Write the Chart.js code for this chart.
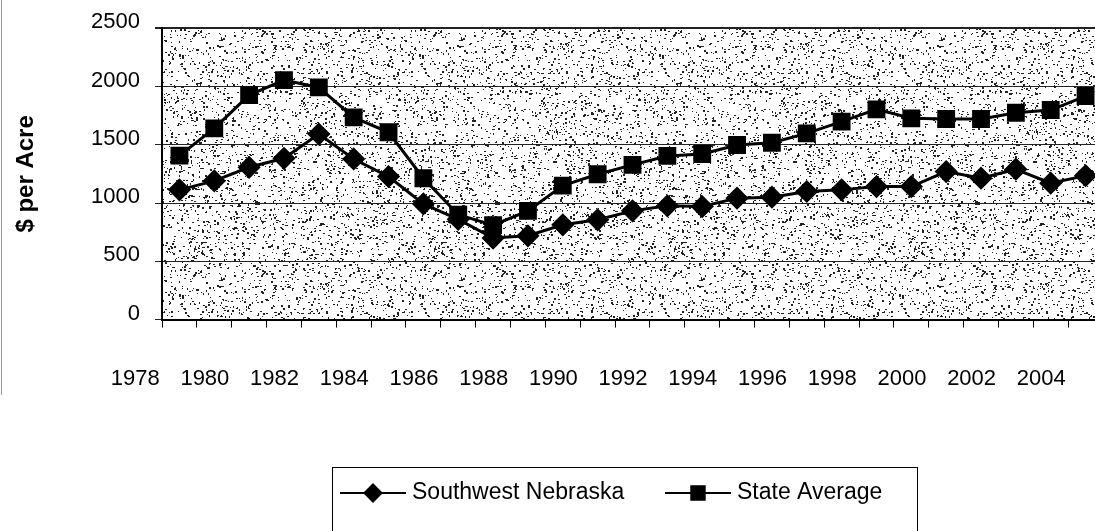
<!DOCTYPE html>
<html>
<head>
<meta charset="utf-8">
<script src="https://cdn.jsdelivr.net/npm/chart.js@4.4.1/dist/chart.umd.min.js"></script>
<style>
  html, body { margin: 0; padding: 0; background: #fff; overflow: hidden; }
  #wrap { position: relative; width: 1095px; height: 531px; overflow: hidden; }
  #landChart { position: absolute; left: 0; top: 0; }
  #edge { position: absolute; left: 1px; top: 0; width: 1px; height: 395px; background: #999; }
</style>
</head>
<body>
<div id="wrap">
  <canvas id="landChart" width="1120" height="531"></canvas>
  <div id="edge"></div>
</div>
<script>
// ===== Data =====
const years = [1979, 1980, 1981, 1982, 1983, 1984, 1985, 1986, 1987, 1988, 1989, 1990, 1991,
  1992, 1993, 1994, 1995, 1996, 1997, 1998, 1999, 2000, 2001, 2002, 2003, 2004, 2005];
const yearLabels = [1978, 1980, 1982, 1984, 1986, 1988, 1990, 1992, 1994, 1996, 1998, 2000, 2002, 2004];
const swNebraska = [1113, 1190, 1307, 1384, 1592, 1378, 1227, 993, 860, 700, 719, 813, 856,
  933, 976, 970, 1042, 1050, 1099, 1113, 1141, 1141, 1270, 1213, 1290, 1170, 1235];
const stateAverage = [1407, 1641, 1926, 2055, 1992, 1735, 1607, 1213, 900, 810, 933, 1150, 1247,
  1327, 1404, 1421, 1498, 1517, 1598, 1698, 1804, 1727, 1721, 1721, 1775, 1798, 1918];
const yTicks = [0, 500, 1000, 1500, 2000, 2500];

Chart.defaults.font.family = "'Liberation Sans', Arial, sans-serif";
Chart.defaults.color = "#000";

// year labels sit a little left of the points in the original
const labelShift = 0.27;

// ===== Speckled plot background =====
function makeSpeckle() {
  const c = document.createElement("canvas");
  c.width = 240;
  c.height = 240;
  const g = c.getContext("2d");
  g.fillStyle = "#fff";
  g.fillRect(0, 0, 240, 240);
  let seed = 20061;
  const rnd = () => {
    seed = (Math.imul(seed, 1664525) + 1013904223) >>> 0;
    return seed / 4294967296;
  };
  g.fillStyle = "#222";
  for (let i = 0; i < 3100; i++) {
    const x = Math.floor(rnd() * 240);
    const y = Math.floor(rnd() * 240);
    g.fillRect(x, y, rnd() < 0.5 ? 1 : 2, rnd() < 0.7 ? 1 : 2);
  }
  return g.createPattern(c, "repeat");
}

const speckleBg = {
  id: "speckleBg",
  beforeDraw(chart) {
    const { ctx, chartArea: a } = chart;
    ctx.save();
    ctx.fillStyle = makeSpeckle();
    ctx.fillRect(a.left, a.top, a.right - a.left, a.bottom - a.top);
    ctx.restore();
  }
};

// ===== Boxed legend with line + marker =====
const boxLegend = {
  id: "boxLegend",
  afterDraw(chart) {
    const ctx = chart.ctx;
    const starts = [340, 665];
    const y = 493;
    ctx.save();
    ctx.strokeStyle = "#000";
    ctx.lineWidth = 1;
    ctx.strokeRect(332.5, 467.5, 585, 90);
    chart.data.datasets.forEach((ds, i) => {
      const x0 = starts[i];
      ctx.strokeStyle = "#000";
      ctx.fillStyle = "#000";
      ctx.lineWidth = 2;
      ctx.beginPath();
      ctx.moveTo(x0, y);
      ctx.lineTo(x0 + 66, y);
      ctx.stroke();
      Chart.helpers.drawPoint(ctx, {
        pointStyle: ds.pointStyle,
        radius: ds.pointRadius - 1,
        rotation: 0,
        borderWidth: 1
      }, x0 + 33, y);
      ctx.font = "23px 'Liberation Sans', Arial, sans-serif";
      ctx.textBaseline = "middle";
      ctx.textAlign = "left";
      ctx.fillText(ds.label, x0 + 72, y);
    });
    ctx.restore();
  }
};

// ===== Chart =====
new Chart(document.getElementById("landChart"), {
  type: "line",
  data: {
    labels: years,
    datasets: [
      {
        label: "Southwest Nebraska",
        data: swNebraska,
        borderColor: "#000",
        backgroundColor: "#000",
        borderWidth: 3,
        pointStyle: "rectRot",
        pointRadius: 9.5,
        pointBackgroundColor: "#000",
        pointBorderColor: "#000",
        tension: 0
      },
      {
        label: "State Average",
        data: stateAverage,
        borderColor: "#000",
        backgroundColor: "#000",
        borderWidth: 3,
        pointStyle: "rect",
        pointRadius: 10.5,
        pointBackgroundColor: "#000",
        pointBorderColor: "#000",
        tension: 0
      }
    ]
  },
  options: {
    responsive: false,
    animation: false,
    layout: { padding: { top: 28, bottom: 101, left: 0, right: 17 } },
    plugins: { legend: { display: false }, tooltip: { enabled: false } },
    scales: {
      x: {
        type: "category",
        offset: true,
        grid: { offset: true, drawOnChartArea: false, tickLength: 8, color: "#000" },
        border: { color: "#000", width: 2 },
        ticks: { display: false }
      },
      xl: {
        type: "linear",
        position: "bottom",
        min: years[0] - 0.5 + labelShift,
        max: years[years.length - 1] + 0.5 + labelShift,
        afterBuildTicks: (s) => { s.ticks = yearLabels.map((v) => ({ value: v })); },
        grid: { display: false, drawTicks: false },
        border: { display: false },
        ticks: { padding: 38, autoSkip: false, maxRotation: 0, font: { size: 22 }, callback: (v) => String(v) }
      },
      y: {
        min: 0,
        max: 2500,
        afterBuildTicks: (s) => { s.ticks = yTicks.map((v) => ({ value: v })); },
        afterFit: (s) => { s.width = 162; },
        grid: {
          color: "#222",
          lineWidth: (c) => (c.tick && c.tick.value === 2500 ? 2 : 1),
          tickLength: 7
        },
        border: { color: "#000", width: 2 },
        ticks: { padding: 15, labelOffset: -6, font: { size: 22 }, callback: (v) => String(v) },
        title: {
          display: true,
          text: "$ per Acre",
          font: { size: 24, weight: "bold" },
          padding: { top: 12, bottom: 0 }
        }
      }
    }
  },
  plugins: [speckleBg, boxLegend]
});
</script>
</body>
</html>
